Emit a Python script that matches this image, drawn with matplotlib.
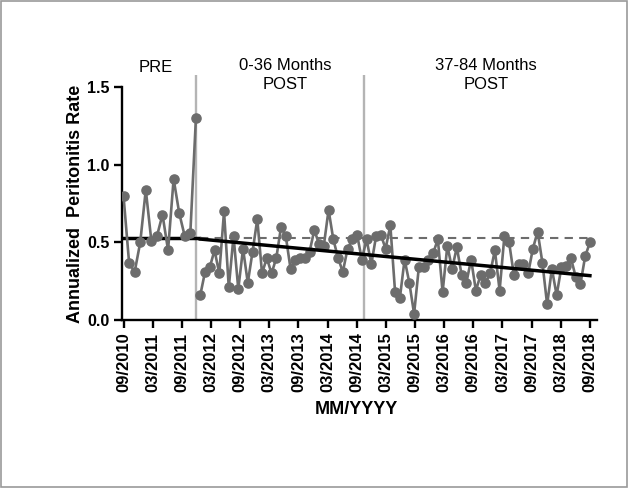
import numpy as np
import matplotlib
matplotlib.use("Agg")
import matplotlib.pyplot as plt
from matplotlib.patches import Rectangle

plt.rcParams['font.family'] = ['Liberation Sans', 'DejaVu Sans']

# ---- data ----
pre_vals = [0.80, 0.37, 0.31, 0.50, 0.84, 0.51, 0.54, 0.68, 0.45, 0.91, 0.69, 0.54, 0.56, 1.30]
post_vals = [0.16, 0.31, 0.34, 0.45, 0.30, 0.70, 0.21, 0.54, 0.20, 0.46,
             0.24, 0.44, 0.65, 0.30, 0.40, 0.30, 0.40, 0.60, 0.54, 0.33,
             0.39, 0.40, 0.40, 0.44, 0.58, 0.49, 0.48, 0.71, 0.52, 0.40,
             0.31, 0.46, 0.52, 0.55, 0.39, 0.52, 0.36, 0.54, 0.55, 0.46,
             0.61, 0.18, 0.14, 0.39, 0.24, 0.04, 0.34, 0.34, 0.39, 0.43,
             0.52, 0.18, 0.48, 0.33, 0.47, 0.29, 0.24, 0.39, 0.19, 0.29,
             0.24, 0.30, 0.45, 0.19, 0.54, 0.50, 0.29, 0.36, 0.36, 0.30,
             0.46, 0.57, 0.37, 0.10, 0.33, 0.16, 0.34, 0.35, 0.40, 0.28,
             0.23, 0.41, 0.50]
# months since 09/2010
pre_start, pre_end = 0.0, 14.9
post_start, post_end = 15.8, 96.0
phase_lines = [14.85, 49.4]
pre_mean = 0.527
trend_start, trend_end = 0.522, 0.286
tick_labels = ['09/2010', '03/2011', '09/2011', '03/2012', '09/2012', '03/2013',
               '09/2013', '03/2014', '09/2014', '03/2015', '09/2015', '03/2016',
               '09/2016', '03/2017', '09/2017', '03/2018', '09/2018']
tick_months = list(range(0, 97, 6))
phase_titles = ['PRE', '0-36 Months\nPOST', '37-84 Months\nPOST']
phase_title_x = [156, 285, 486]  # pixels
phase_title_y = [68, 75, 75]

W, H = 628, 488
fig = plt.figure(figsize=(W / 100, H / 100), dpi=100)
L, R, B, T = 122.3, 596.7, 320, 75
ax = fig.add_axes([L / W, 1 - B / H, (R - L) / W, (B - T) / H])

pre_x = np.linspace(pre_start, pre_end, len(pre_vals))
post_x = np.linspace(post_start, post_end, len(post_vals))

grey = '#6c6c6c'
for xv in phase_lines:
    ax.axvline(xv, color='#b4b4b4', lw=1.7, zorder=1)

ax.plot([-0.2, 15.6], [pre_mean, pre_mean], color='black', lw=2.5, zorder=2)
ax.plot([post_start, post_end], [pre_mean, pre_mean], color=grey, lw=1.5,
        ls=(0, (4, 3)), zorder=2)
ax.plot(pre_x, pre_vals, '-o', color=grey, lw=1.9, ms=6.6, zorder=3)
ax.plot(post_x, post_vals, '-o', color=grey, lw=1.9, ms=6.6, zorder=3)
ax.plot([post_start, post_end], [trend_start, trend_end], color='black', lw=2.5, zorder=4)

ax.set_xlim(-0.25, 97.4)
ax.set_ylim(0, 1.58)
ax.spines['top'].set_visible(False)
ax.spines['right'].set_visible(False)
ax.spines['left'].set_bounds(0, 1.5)
for s in ['left', 'bottom']:
    ax.spines[s].set_linewidth(1.7)
ax.set_yticks([0.0, 0.5, 1.0, 1.5])
ax.set_yticklabels(['0.0', '0.5', '1.0', '1.5'], fontweight='bold', fontsize=11.5)
ax.set_xticks(tick_months)
ax.set_xticklabels(tick_labels, rotation=90, fontweight='bold', fontsize=12)
ax.tick_params(axis='both', width=1.7, length=6, direction='out', pad=3)

ax.set_ylabel('Annualized  Peritonitis Rate', fontweight='bold', fontsize=13)
ax.yaxis.set_label_coords(-(L - 84) / (R - L), (B - 204) / (B - T))
ax.set_xlabel('MM/YYYY', fontweight='bold', fontsize=13)
ax.xaxis.set_label_coords((356 - L) / (R - L), -(410 - B) / (B - T))
ax.xaxis.label.set_verticalalignment('center')

for txt, px, py in zip(phase_titles, phase_title_x, phase_title_y):
    fig.text(px / W, 1 - py / H, txt, ha='center', va='center', fontsize=12,
             linespacing=1.3)

fig.patches.append(Rectangle((0.002, 0.002), 0.996, 0.996, transform=fig.transFigure,
                             fill=False, edgecolor='#9a9a9a', lw=1.2))
fig.savefig('out.png', dpi=100)
